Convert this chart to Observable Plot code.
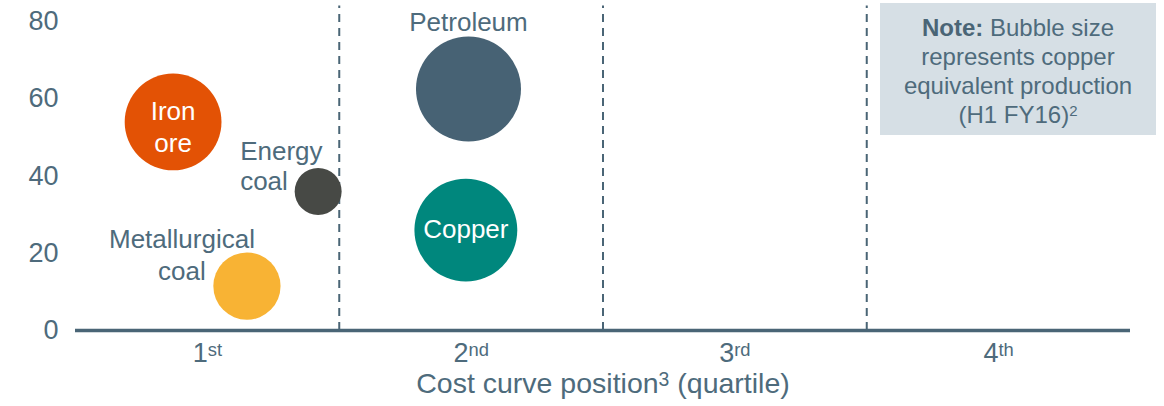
<!DOCTYPE html>
<html>
<head>
<meta charset="utf-8">
<script src="https://cdn.jsdelivr.net/npm/d3@7"></script>
<script src="https://cdn.jsdelivr.net/npm/@observablehq/plot@0.6"></script>
<style>
  html, body { margin: 0; padding: 0; background: #fff; }
  #wrap { position: relative; width: 1164px; height: 406px; font-family: "Liberation Sans", Arial, sans-serif; }
  #note {
    position: absolute; left: 880px; top: 3px; width: 276px; height: 132px;
    background: #d6dfe5; color: #4e6b7c; text-align: center;
    font-size: 24px; line-height: 29px; box-sizing: border-box; padding-top: 10px;
  }
  #note b { color: #4a6576; }
  #note sup { font-size: 15px; line-height: 0; vertical-align: 0.5em; }
</style>
</head>
<body>
<div id="wrap">
  <div id="chart"></div>
  <div id="note"><b>Note:</b> Bubble size<br>represents copper<br>equivalent production<br>(H1 FY16)<sup>2</sup></div>
</div>
<script>
// ---- data ----
const commodities = ["Iron ore", "Energy coal", "Metallurgical coal", "Petroleum", "Copper"];
const costPosition = [0.37, 0.92, 0.65, 1.49, 1.48];       // quartile position (0-4)
const marginValue = [54, 36, 11.5, 62.5, 26];               // y value
const production = [85, 20, 41, 100, 96];                   // copper equivalent production (relative)
const bubbleLabels = ["Iron\nore", "Energy\ncoal", "Metallurgical\ncoal", "Petroleum", "Copper"];
const bubbleColors = ["#e35205", "#474945", "#f8b334", "#476274", "#00877d"];
const yTicks = [0, 20, 40, 60, 80];
const quartileCenters = [0.5, 1.5, 2.5, 3.5];
const quartileLabels = ["1^{st}", "2^{nd}", "3^{rd}", "4^{th}"];
const quartileDividers = [1, 2, 3];
const xTitle = ["Cost curve position^{3} (quartile)"];

const data = commodities.map((name, i) => ({
  name, pos: costPosition[i], val: marginValue[i], prod: production[i], label: bubbleLabels[i]
}));
const pick = (names) => data.filter(d => names.includes(d.name));

const textColor = "#4e6b7c";
const lineColor = "#4a6576";

const chart = Plot.plot({
  width: 1164,
  height: 406,
  marginLeft: 75,
  marginRight: 34,
  marginTop: 21,
  marginBottom: 76,
  style: { fontFamily: "'Liberation Sans', Arial, sans-serif", fontSize: "26px", color: textColor, background: "white", overflow: "visible" },
  x: { domain: [0, 4] },
  y: { domain: [0, 80] },
  r: { type: "sqrt", range: [0, 52.5] },
  color: { domain: commodities, range: bubbleColors },
  marks: [
    Plot.axisY(yTicks, { tickSize: 0, tickPadding: 17, fontSize: 27, label: null, fill: textColor }),
    Plot.axisX(quartileCenters, {
      tickSize: 0, tickPadding: 12, fontSize: 27, label: null, fill: textColor,
      tickFormat: d => quartileLabels[quartileCenters.indexOf(d)]
    }),
    Plot.ruleX(quartileDividers, { y1: 0, y2: 84, stroke: lineColor, strokeWidth: 2, strokeDasharray: "8,6" }),
    Plot.ruleY([0], { stroke: lineColor, strokeWidth: 3.5 }),
    Plot.dot(data, { x: "pos", y: "val", r: "prod", fill: "name", stroke: null }),
    // labels inside bubbles
    Plot.text(pick(["Iron ore"]), { x: "pos", y: "val", text: "label", fill: "white", fontSize: 26, lineHeight: 1.2, dy: 4 }),
    Plot.text(pick(["Copper"]), { x: "pos", y: "val", text: "label", fill: "white", fontSize: 26, dy: 0 }),
    // outside labels
    Plot.text(pick(["Petroleum"]), { x: "pos", y: "val", text: "label", fill: textColor, fontSize: 26, dy: -66 }),
    Plot.text(pick(["Energy coal"]), { x: "pos", y: "val", text: "label", fill: textColor, fontSize: 26, lineHeight: 1.17, textAnchor: "start", dx: -78, dy: -26 }),
    Plot.text(pick(["Metallurgical coal"]), { x: "pos", y: "val", text: "label", fill: textColor, fontSize: 26, lineHeight: 1.2, dx: -65, dy: -32 }),
    // axis title
    Plot.text(xTitle, { frameAnchor: "bottom", text: d => d, fill: textColor, fontSize: 28.5, dy: 62 })
  ]
});

// superscript post-processing for "^{...}"
const svgns = "http://www.w3.org/2000/svg";
chart.querySelectorAll("text, tspan").forEach(el => {
  if (el.children.length) return;
  const s = el.textContent;
  if (!s.includes("^{")) return;
  el.textContent = "";
  const re = /\^\{([^}]*)\}/g;
  let last = 0, m;
  while ((m = re.exec(s))) {
    if (m.index > last) el.appendChild(document.createTextNode(s.slice(last, m.index)));
    const t = document.createElementNS(svgns, "tspan");
    t.setAttribute("baseline-shift", "36%");
    t.setAttribute("font-size", "68%");
    t.textContent = m[1];
    el.appendChild(t);
    last = re.lastIndex;
  }
  if (last < s.length) el.appendChild(document.createTextNode(s.slice(last)));
});

document.getElementById("chart").appendChild(chart);
</script>
</body>
</html>
